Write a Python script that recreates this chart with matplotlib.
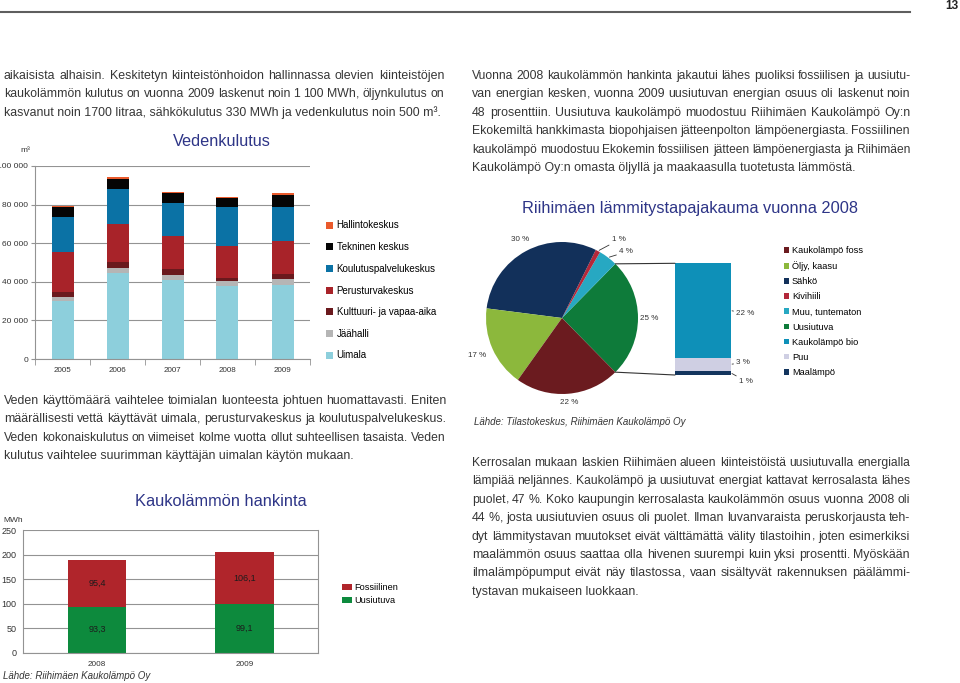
import numpy as np
import matplotlib
matplotlib.use("Agg")
import matplotlib.pyplot as plt
from matplotlib.lines import Line2D
from matplotlib.patches import ConnectionPatch

W, H = 960, 683

# --- data: Vedenkulutus (m3) ---
years_w = ['2005', '2006', '2007', '2008', '2009']
uimala = [29800, 44800, 40700, 37600, 38300]
jaahalli = [2300, 2600, 2600, 2600, 3100]
kulttuuri = [2600, 2800, 3300, 2000, 2700]
perusturva = [20500, 20000, 17200, 16600, 16800]
koulutus = [18200, 17700, 16900, 19800, 17700]
tekninen = [5200, 5500, 5200, 4800, 6600]
hallinto = [900, 900, 700, 700, 700]

# --- data: Kaukolämmön hankinta (MWh) ---
years_k = ['2008', '2009']
uusiutuva_k = [93.3, 99.1]
fossiilinen_k = [95.4, 106.1]

# --- data: lämmitystapajakauma 2008 (%) ---
pie_names = ['Uusiutuva', 'Muu, tuntematon', 'Kivihiili', 'Sähkö', 'Öljy, kaasu', 'Kaukolämpö foss']
pie_vals = [25, 4, 1, 30, 17, 22]
bar_names = ['Maalämpö', 'Puu', 'Kaukolämpö bio']
bar_vals = [1, 3, 22]

GRID = '#939393'
TXT = '#363636'
TITLE = '#2e3587'
FONT = 'Liberation Sans'
plt.rcParams['font.family'] = [FONT, 'DejaVu Sans']

fig = plt.figure(figsize=(9.6, 6.83), dpi=100)
renderer = fig.canvas.get_renderer()


def rect(l, t, r, b):
    return [l / W, 1 - b / H, (r - l) / W, (b - t) / H]


def fx(x):
    return x / W


def fy(y):
    return 1 - y / H


FS = 8.95


def word_arts(words, y, fs):
    # comma kept as its own text so the word itself sits on the same pixel row
    out = []
    for w in words:
        parts = [w[:-1], w[-1]] if w.endswith(',') and len(w) > 1 else [w]
        arts = [fig.text(0, y, p, ha='left', va='baseline', fontsize=fs, color=TXT)
                for p in parts]
        ws = [a.get_window_extent(renderer).width for a in arts]
        out.append((arts, ws))
    return out


def line(x0, x1, yc, s, justify):
    y = fy(yc + 4)
    if not justify:
        fig.text(fx(x0), y, s, ha='left', va='baseline', fontsize=FS, color=TXT)
        return
    words = s.split(' ')
    avail = x1 - x0
    fs = FS
    for k in range(6):
        items = word_arts(words, y, fs)
        total = sum(sum(ws) for _, ws in items)
        need = total + (len(words) - 1) * 0.24 * fs * 100 / 72
        if need <= avail or k == 5:
            break
        for arts, _ in items:
            for a in arts:
                a.remove()
        fs *= 0.995 * avail / need
    gap = (avail - total) / (len(words) - 1)
    x = x0
    for arts, ws in items:
        for a, w in zip(arts, ws):
            a.set_x(fx(x))
            x += w
        x += gap


def paragraph(x0, x1, y0, lines, pitch=18.4):
    for i, s in enumerate(lines):
        line(x0, x1, y0 + i * pitch, s, i < len(lines) - 1)


# header
fig.add_artist(Line2D([0, fx(910)], [fy(11.7), fy(11.7)], color='#5e5e5e', lw=1.5))
fig.text(fx(952), fy(6), '13', ha='center', va='center', fontsize=8.5,
         fontweight='bold', color='#222222')

paragraph(4, 444, 75, [
    'aikaisista alhaisin. Keskitetyn kiinteistönhoidon hallinnassa olevien kiinteistöjen',
    'kaukolämmön kulutus on vuonna 2009 laskenut noin 1 100 MWh, öljynkulutus on',
    'kasvanut noin 1700 litraa, sähkökulutus 330 MWh ja vedenkulutus noin 500 m³.',
])
paragraph(472, 910, 75, [
    'Vuonna 2008 kaukolämmön hankinta jakautui lähes puoliksi fossiilisen ja uusiutu-',
    'van energian kesken, vuonna 2009 uusiutuvan energian osuus oli laskenut noin',
    '48 prosenttiin. Uusiutuva kaukolämpö muodostuu Riihimäen Kaukolämpö Oy:n',
    'Ekokemiltä hankkimasta biopohjaisen jätteenpolton lämpöenergiasta. Fossiilinen',
    'kaukolämpö muodostuu Ekokemin fossiilisen jätteen lämpöenergiasta ja Riihimäen',
    'Kaukolämpö Oy:n omasta öljyllä ja maakaasulla tuotetusta lämmöstä.',
])
paragraph(4, 446, 400, [
    'Veden käyttömäärä vaihtelee toimialan luonteesta johtuen huomattavasti. Eniten',
    'määrällisesti vettä käyttävät uimala, perusturvakeskus ja koulutuspalvelukeskus.',
    'Veden kokonaiskulutus on viimeiset kolme vuotta ollut suhteellisen tasaista. Veden',
    'kulutus vaihtelee suurimman käyttäjän uimalan käytön mukaan.',
])
paragraph(472, 910, 462, [
    'Kerrosalan mukaan laskien Riihimäen alueen kiinteistöistä uusiutuvalla energialla',
    'lämpiää neljännes. Kaukolämpö ja uusiutuvat energiat kattavat kerrosalasta lähes',
    'puolet, 47 %. Koko kaupungin kerrosalasta kaukolämmön osuus vuonna 2008 oli',
    '44 %, josta uusiutuvien osuus oli puolet. Ilman luvanvaraista peruskorjausta teh-',
    'dyt lämmitystavan muutokset eivät välttämättä välity tilastoihin, joten esimerkiksi',
    'maalämmön osuus saattaa olla hivenen suurempi kuin yksi prosentti. Myöskään',
    'ilmalämpöpumput eivät näy tilastossa, vaan sisältyvät rakennuksen päälämmi-',
    'tystavan mukaiseen luokkaan.',
])


def style_axes(ax, right=False):
    for s in ['top', 'right']:
        ax.spines[s].set_visible(False)
    if right:
        ax.spines['right'].set_visible(True)
    for s in ['left', 'bottom', 'right']:
        ax.spines[s].set_color(GRID)
        ax.spines[s].set_linewidth(0.8)
    ax.yaxis.grid(True, color=GRID, lw=0.8)
    ax.set_axisbelow(True)
    ax.tick_params(colors=GRID, labelcolor='#333333')


# --- Vedenkulutus ---
ax1 = fig.add_axes(rect(35, 166, 310, 359))
series_w = [('Uimala', uimala, '#8dcfdc'), ('Jäähalli', jaahalli, '#b5b5b5'),
            ('Kulttuuri- ja vapaa-aika', kulttuuri, '#6a191d'),
            ('Perusturvakeskus', perusturva, '#a82329'),
            ('Koulutuspalvelukeskus', koulutus, '#0b72a5'),
            ('Tekninen keskus', tekninen, '#050505'),
            ('Hallintokeskus', hallinto, '#ea5a2c')]
xw = np.arange(len(years_w))
bottom = np.zeros(len(years_w))
handles_w = []
for name, vals, col in series_w:
    b = ax1.bar(xw, vals, 0.4, bottom=bottom, color=col, label=name)
    handles_w.append(b)
    bottom += np.array(vals)
ax1.set_xlim(-0.5, len(years_w) - 0.5)
ax1.set_ylim(0, 100000)
ax1.set_yticks(np.arange(0, 100001, 20000))
ax1.set_yticklabels([f'{v:,}'.replace(',', ' ') for v in range(0, 100001, 20000)])
ax1.set_xticks(xw)
ax1.set_xticklabels(years_w)
ax1.set_xticks(np.arange(-0.5, len(years_w)), minor=True)
style_axes(ax1)
ax1.tick_params(axis='x', which='major', length=0, labelsize=5.8, pad=6)
ax1.tick_params(axis='x', which='minor', length=4, color=GRID)
ax1.tick_params(axis='y', length=3, labelsize=6, pad=2)
fig.text(fx(222), fy(142), 'Vedenkulutus', ha='center', va='center', fontsize=11.7, color=TITLE)
fig.text(fx(20), fy(150), 'm³', ha='left', va='center', fontsize=6, color='#333333')
fig.legend(handles_w[::-1], [s[0] for s in series_w][::-1], loc='upper left',
           bbox_to_anchor=(fx(326), fy(220.5)), frameon=False, fontsize=7,
           handlelength=0.7, handleheight=0.7, handletextpad=0.4,
           labelspacing=1.2, borderpad=0, borderaxespad=0)

# --- Kaukolämmön hankinta ---
ax3 = fig.add_axes(rect(23.3, 530, 318, 652.7))
xk = np.arange(len(years_k))
b_u = ax3.bar(xk, uusiutuva_k, 0.4, color='#0d8a3d', label='Uusiutuva')
b_f = ax3.bar(xk, fossiilinen_k, 0.4, bottom=uusiutuva_k, color='#b0252b', label='Fossiilinen')
ax3.bar_label(b_u, labels=[f'{v:.1f}'.replace('.', ',') for v in uusiutuva_k],
              label_type='center', fontsize=6.5, color='#1c1c1c')
ax3.bar_label(b_f, labels=[f'{v:.1f}'.replace('.', ',') for v in fossiilinen_k],
              label_type='center', fontsize=6.5, color='#1c1c1c')
ax3.set_xlim(-0.5, len(years_k) - 0.5)
ax3.set_ylim(0, 250)
ax3.set_yticks(np.arange(0, 251, 50))
ax3.set_xticks(xk)
ax3.set_xticklabels(years_k)
style_axes(ax3, right=True)
ax3.tick_params(axis='x', length=0, labelsize=5.9, pad=6)
ax3.tick_params(axis='y', length=0, labelsize=6.5, pad=5)
fig.text(fx(221), fy(501), 'Kaukolämmön hankinta', ha='center', va='center', fontsize=11.8, color=TITLE)
fig.text(fx(3), fy(520), 'MWh', ha='left', va='center', fontsize=6, color='#333333')
fig.legend([b_f, b_u], ['Fossiilinen', 'Uusiutuva'], loc='upper left',
           bbox_to_anchor=(fx(342), fy(583.5)), frameon=False, fontsize=6.6,
           handlelength=1.05, handleheight=0.65, handletextpad=0.25,
           labelspacing=0.38, borderpad=0, borderaxespad=0)
fig.text(fx(3), fy(676), 'Lähde: Riihimäen Kaukolämpö Oy', ha='left', va='center',
         fontsize=7, style='italic', color=TXT)

# --- Lämmitystapajakauma ---
pie_cols = ['#0e7b3a', '#27a8c2', '#b3283a', '#12305a', '#8cb83c', '#6b1b1f']
ax2 = fig.add_axes(rect(486, 242, 638, 394))
start = -pie_vals[0] / sum(pie_vals) * 360 / 2
wedges, _ = ax2.pie(pie_vals, colors=pie_cols, startangle=start, counterclock=True,
                    radius=1, wedgeprops=dict(linewidth=0))
ax2.set_xlim(-1, 1)
ax2.set_ylim(-1, 1)
ax2.set_aspect('equal')
ax2.axis('off')
lab_dist = [1.15, None, None, 1.17, 1.22, 1.12]
for w, v, d in zip(wedges, pie_vals, lab_dist):
    m = np.deg2rad((w.theta1 + w.theta2) / 2)
    if d is not None:
        ax2.text(d * np.cos(m), d * np.sin(m), f'{v} %', ha='center', va='center',
                 fontsize=5.8, color='#333333')
    else:
        off = (10, 8) if v == 1 else (8, 4)
        ax2.annotate(f'{v} %', xy=(np.cos(m), np.sin(m)), xytext=off,
                     textcoords='offset points', ha='left', va='center',
                     fontsize=5.8, color='#333333',
                     arrowprops=dict(arrowstyle='-', color='#333333', lw=0.6,
                                     shrinkA=0, shrinkB=1))

bar_cols = ['#13355e', '#cfcfe3', '#0e90b8']
ax4 = fig.add_axes(rect(675, 263.3, 730.7, 375))
bb = 0
bar_handles = []
for name, v, c in zip(bar_names, bar_vals, bar_cols):
    p = ax4.bar([0], [v], 1.0, bottom=bb, color=c, label=name)
    bar_handles.append(p)
    yc = bb + v / 2
    off = {22: (4, -2), 3: (4, 1), 1: (6, -6)}[v]
    ax4.annotate(f'{v} %', xy=(0.5, yc), xytext=off, textcoords='offset points',
                 ha='left', va='center', fontsize=5.8, color='#333333',
                 arrowprops=dict(arrowstyle='-', color='#333333', lw=0.6,
                                 shrinkA=0, shrinkB=1))
    bb += v
ax4.set_xlim(-0.5, 0.5)
ax4.set_ylim(0, sum(bar_vals))
ax4.axis('off')

w0 = wedges[0]
for th, yb in [(w0.theta2, sum(bar_vals)), (w0.theta1, 0)]:
    t = np.deg2rad(th)
    cp = ConnectionPatch(xyA=(np.cos(t), np.sin(t)), coordsA=ax2.transData,
                         xyB=(-0.5, yb), coordsB=ax4.transData,
                         color='#333333', lw=0.8)
    fig.add_artist(cp)

fig.text(fx(690), fy(208), 'Riihimäen lämmitystapajakauma vuonna 2008', ha='center',
         va='center', fontsize=11.8, color=TITLE)

leg_order = [(wedges[5], 'Kaukolämpö foss'), (wedges[4], 'Öljy, kaasu'),
             (wedges[3], 'Sähkö'), (wedges[2], 'Kivihiili'),
             (wedges[1], 'Muu, tuntematon'), (wedges[0], 'Uusiutuva'),
             (bar_handles[2], 'Kaukolämpö bio'), (bar_handles[1], 'Puu'),
             (bar_handles[0], 'Maalämpö')]
fig.legend([h for h, _ in leg_order], [n for _, n in leg_order], loc='upper left',
           bbox_to_anchor=(fx(784), fy(246)), frameon=False, fontsize=6.7,
           handlelength=0.55, handleheight=0.55, handletextpad=0.3,
           labelspacing=0.66, borderpad=0, borderaxespad=0)
fig.text(fx(474), fy(422), 'Lähde: Tilastokeskus, Riihimäen Kaukolämpö Oy', ha='left',
         va='center', fontsize=7, style='italic', color=TXT)

fig.savefig('out.png', dpi=100)
